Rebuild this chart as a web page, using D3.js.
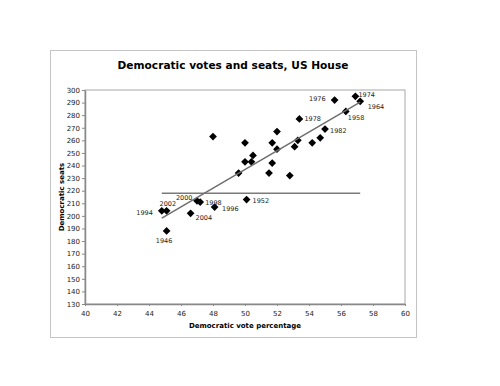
<!DOCTYPE html>
<html>
<head>
<meta charset="utf-8">
<script src="https://cdn.jsdelivr.net/npm/d3@7"></script>
<style>
  body { margin: 0; background: #fff; }
  text { font-family: "DejaVu Sans", Verdana, sans-serif; }
</style>
</head>
<body>
<script>
// Democratic vote share (%) and seats won, one entry per election
var votePct = [48.0, 50.0, 50.0, 49.6, 47.0, 47.2, 48.1, 44.8, 45.1, 46.6,
               45.1, 50.1, 55.6, 56.9, 57.2, 56.3, 53.4, 55.0, 52.0, 54.7,
               54.2, 51.7, 53.3, 53.1, 52.0, 50.5, 50.4, 51.7, 51.5, 52.8];
var seats   = [263, 258, 243, 234, 212, 211, 207, 204, 204, 202,
               188, 213, 292, 295, 291, 283, 277, 269, 267, 262,
               258, 258, 260, 255, 253, 248, 243, 242, 234, 232];
var years   = ["", "", "", "", "2000", "1998", "1996", "1994", "2002", "2004",
               "1946", "1952", "1976", "1974", "1964", "1958", "1978", "1982", "", "",
               "", "", "", "", "", "", "", "", "", ""];
var majority = 218;   // seats needed for a majority
var xTicks = [40, 42, 44, 46, 48, 50, 52, 54, 56, 58, 60];
var yTicks = [130, 140, 150, 160, 170, 180, 190, 200, 210, 220, 230, 240, 250, 260, 270, 280, 290, 300];

// label offsets (px from point): [dx, dy, anchor]
var labelPos = {
  "1994": [-9, 2, "end"],   "2002": [-7, -7, "start"], "2000": [-4.5, -3, "end"],
  "1998": [5, 0.5, "start"], "1996": [7.5, 1.5, "start"], "2004": [5, 4.5, "start"],
  "1946": [-2.5, 10, "middle"], "1952": [6, 1.5, "start"], "1976": [-9, -1.5, "end"],
  "1974": [3, -1, "start"], "1964": [7.5, 5.5, "start"], "1958": [2, 6.5, "start"],
  "1978": [5, 0, "start"], "1982": [5, 2, "start"]
};

var data = votePct.map(function(v, i) {
  return {x: v, y: seats[i], year: years[i]};
});

var svg = d3.select("body").append("svg")
    .attr("width", 500)
    .attr("height", 386);

// outer chart box
svg.append("rect")
    .attr("x", 50.5).attr("y", 50.5)
    .attr("width", 366).attr("height", 287)
    .attr("fill", "#fff")
    .attr("stroke", "#c4c4c4");

var x = d3.scaleLinear().domain([40, 60]).range([85, 405]);
var y = d3.scaleLinear().domain([130, 300]).range([304, 90]);

// plot area frame
svg.append("rect")
    .attr("x", x(40)).attr("y", y(300))
    .attr("width", x(60) - x(40)).attr("height", y(130) - y(300))
    .attr("fill", "none")
    .attr("stroke", "#a8a8a8");

// title
svg.append("text")
    .attr("x", 233).attr("y", 69)
    .attr("text-anchor", "middle")
    .attr("font-size", "10.6px")
    .attr("font-weight", "bold")
    .text("Democratic votes and seats, US House");

// axes
var yAxis = svg.append("g")
    .attr("transform", "translate(" + x(40) + ",0)")
    .call(d3.axisLeft(y).tickValues(yTicks).tickSize(3).tickSizeOuter(0).tickPadding(2));
var xAxis = svg.append("g")
    .attr("transform", "translate(0," + y(130) + ")")
    .call(d3.axisBottom(x).tickValues(xTicks).tickSize(2).tickSizeOuter(0).tickPadding(5));

[xAxis, yAxis].forEach(function(g) {
  g.select(".domain").attr("stroke", "#888").attr("stroke-width", 1.5);
  g.selectAll(".tick line").attr("stroke", "#888");
  g.selectAll(".tick text")
    .attr("font-size", "7px")
    .attr("fill", "#222")
    .style("font-family", "DejaVu Sans, Verdana, sans-serif");
});

// axis titles
svg.append("text")
    .attr("x", 245).attr("y", 328)
    .attr("text-anchor", "middle")
    .attr("font-size", "7px")
    .attr("font-weight", "bold")
    .text("Democratic vote percentage");

svg.append("text")
    .attr("transform", "translate(64,197) rotate(-90)")
    .attr("text-anchor", "middle")
    .attr("font-size", "7px")
    .attr("font-weight", "bold")
    .text("Democratic seats");

// points
var diamond = d3.symbol().type(d3.symbolSquare).size(30);
svg.append("g")
  .selectAll("path")
  .data(data)
  .enter().append("path")
    .attr("d", diamond)
    .attr("transform", function(d) {
      return "translate(" + x(d.x) + "," + y(d.y) + ") rotate(45)";
    })
    .attr("fill", "#000");

// least squares trend line over the range of the data
var xMin = d3.min(votePct), xMax = d3.max(votePct);
var mx = d3.mean(votePct), my = d3.mean(seats);
var sxy = d3.sum(data, function(d) { return (d.x - mx) * (d.y - my); });
var sxx = d3.sum(data, function(d) { return (d.x - mx) * (d.x - mx); });
var slope = sxy / sxx, icpt = my - slope * mx;

var line = d3.line()
    .x(function(d) { return x(d[0]); })
    .y(function(d) { return y(d[1]); });

svg.append("path")
    .datum([[xMin, majority], [xMax, majority]])
    .attr("d", line)
    .attr("fill", "none")
    .attr("stroke", "#7a7a7a")
    .attr("stroke-width", 1.5);

svg.append("path")
    .datum([[xMin, icpt + slope * xMin], [xMax, icpt + slope * xMax]])
    .attr("d", line)
    .attr("fill", "none")
    .attr("stroke", "#6e6e6e")
    .attr("stroke-width", 1.5);

// year labels
svg.append("g")
  .selectAll("text")
  .data(data.filter(function(d) { return d.year; }))
  .enter().append("text")
    .attr("x", function(d) { return x(d.x) + labelPos[d.year][0]; })
    .attr("y", function(d) { return y(d.y) + labelPos[d.year][1]; })
    .attr("dominant-baseline", "central")
    .attr("text-anchor", function(d) { return labelPos[d.year][2]; })
    .attr("font-size", "6.5px")
    .attr("fill", "#222")
    .text(function(d) { return d.year; });
</script>
</body>
</html>
